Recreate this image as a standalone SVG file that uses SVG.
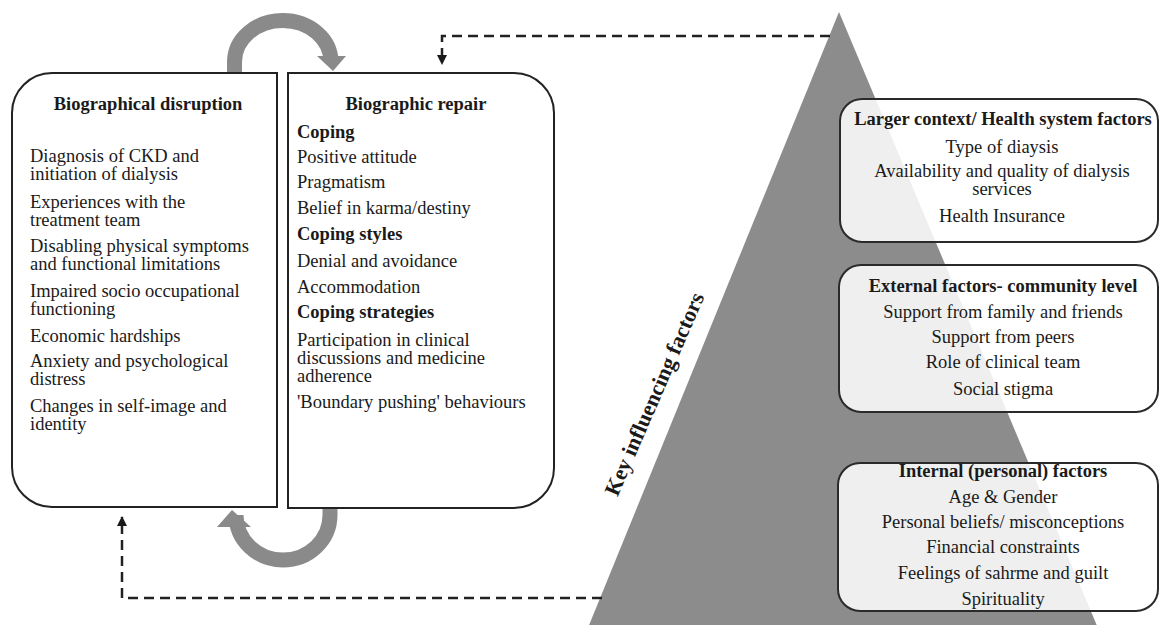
<svg xmlns="http://www.w3.org/2000/svg" width="1159" height="625" viewBox="0 0 1159 625">
  <defs>
    <marker id="tip" viewBox="0 0 10 10" refX="9" refY="5" markerWidth="4" markerHeight="4" orient="auto" markerUnits="strokeWidth">
      <path d="M0,0 L10,5 L0,10 Z" fill="#1a1a1a"/>
    </marker>
    <style>
      text { font-family: "Liberation Serif", "Times New Roman", serif; font-size: 18.5px; fill: #1a1a1a; }
      .b { font-weight: bold; }
      .c { text-anchor: middle; }
      .box { fill: #ffffff; stroke: #222222; stroke-width: 2; }
      .fbox { fill: #ffffff; fill-opacity: 0.86; stroke: #2a2a2a; stroke-width: 2; }
      .dash { fill: none; stroke: #222222; stroke-width: 2.5; stroke-dasharray: 10 6; }
      .loop { fill: none; stroke: #8a8a8a; stroke-width: 15; }
      .head { fill: #8a8a8a; }
    </style>
  </defs>

  <rect width="1159" height="625" fill="#ffffff"/>

  <!-- pyramid of influencing factors -->
  <polygon id="pyramid" points="839,12 583,640 1103,640" fill="#8c8c8c"/>
  <text class="b" transform="translate(661,397) rotate(-66.5)" x="0" y="0" text-anchor="middle" style="font-size:22px">Key influencing factors</text>

  <!-- connectors -->
  <g id="connectors">
    <path class="dash" d="M830,36 H442 V64" marker-end="url(#tip)"/>
    <path class="dash" d="M602,598 H122 V517" marker-end="url(#tip)"/>
    <!-- cycle arrow over the top -->
    <path class="loop" d="M234.5,72 V62 A48.25,41.5 0 0 1 331,62 V58"/>
    <polygon class="head" points="317,56 346,56 333,71"/>
    <!-- cycle arrow underneath -->
    <path class="loop" d="M330,508 V515 A47,45 0 0 1 236,515 V526"/>
    <polygon class="head" points="217,527 251,527 232,510"/>
  </g>

  <!-- biographical disruption -->
  <g id="disruption">
    <path class="box" d="M52,73 H277 V507 H52 A40,40 0 0 1 12,467 V113 A40,40 0 0 1 52,73 Z"/>
    <text class="b c" x="148" y="110">Biographical disruption</text>
    <text x="30" y="162">Diagnosis of CKD and</text>
    <text x="30" y="180">initiation of dialysis</text>
    <text x="30" y="208">Experiences with the</text>
    <text x="30" y="226">treatment team</text>
    <text x="30" y="252">Disabling physical symptoms</text>
    <text x="30" y="270">and functional limitations</text>
    <text x="30" y="297">Impaired socio occupational</text>
    <text x="30" y="315">functioning</text>
    <text x="30" y="342">Economic hardships</text>
    <text x="30" y="367">Anxiety and psychological</text>
    <text x="30" y="385">distress</text>
    <text x="30" y="412">Changes in self-image and</text>
    <text x="30" y="430">identity</text>
  </g>

  <!-- biographic repair -->
  <g id="repair">
    <path class="box" d="M288,73 H514 A40,40 0 0 1 554,113 V468 A40,40 0 0 1 514,508 H288 Z"/>
    <text class="b c" x="416" y="110">Biographic repair</text>
    <text class="b" x="297" y="138">Coping</text>
    <text x="297" y="163">Positive attitude</text>
    <text x="297" y="188">Pragmatism</text>
    <text x="297" y="214">Belief in karma/destiny</text>
    <text class="b" x="297" y="240">Coping styles</text>
    <text x="297" y="267">Denial and avoidance</text>
    <text x="297" y="293">Accommodation</text>
    <text class="b" x="297" y="318">Coping strategies</text>
    <text x="297" y="346">Participation in clinical</text>
    <text x="297" y="364">discussions and medicine</text>
    <text x="297" y="382">adherence</text>
    <text x="297" y="408">'Boundary pushing' behaviours</text>
  </g>

  <!-- health system level -->
  <g id="health-system">
    <rect class="fbox" x="840" y="99" width="318" height="143" rx="22"/>
    <text class="b c" x="1003" y="125">Larger context/ Health system factors</text>
    <text class="c" x="1002" y="153">Type of diaysis</text>
    <text class="c" x="1002" y="177">Availability and quality of dialysis</text>
    <text class="c" x="1002" y="195">services</text>
    <text class="c" x="1002" y="222">Health Insurance</text>
  </g>

  <!-- community level -->
  <g id="community">
    <rect class="fbox" x="839" y="265" width="319" height="147" rx="22"/>
    <text class="b c" x="1003" y="292">External factors- community level</text>
    <text class="c" x="1003" y="318">Support from family and friends</text>
    <text class="c" x="1003" y="343">Support from peers</text>
    <text class="c" x="1003" y="368">Role of clinical team</text>
    <text class="c" x="1003" y="395">Social stigma</text>
  </g>

  <!-- personal level -->
  <g id="personal">
    <rect class="fbox" x="838" y="463" width="320" height="148" rx="22"/>
    <text class="b c" x="1003" y="477">Internal (personal) factors</text>
    <text class="c" x="1003" y="503">Age &amp; Gender</text>
    <text class="c" x="1003" y="528">Personal beliefs/ misconceptions</text>
    <text class="c" x="1003" y="553">Financial constraints</text>
    <text class="c" x="1003" y="579">Feelings of sahrme and guilt</text>
    <text class="c" x="1003" y="605">Spirituality</text>
  </g>
</svg>
